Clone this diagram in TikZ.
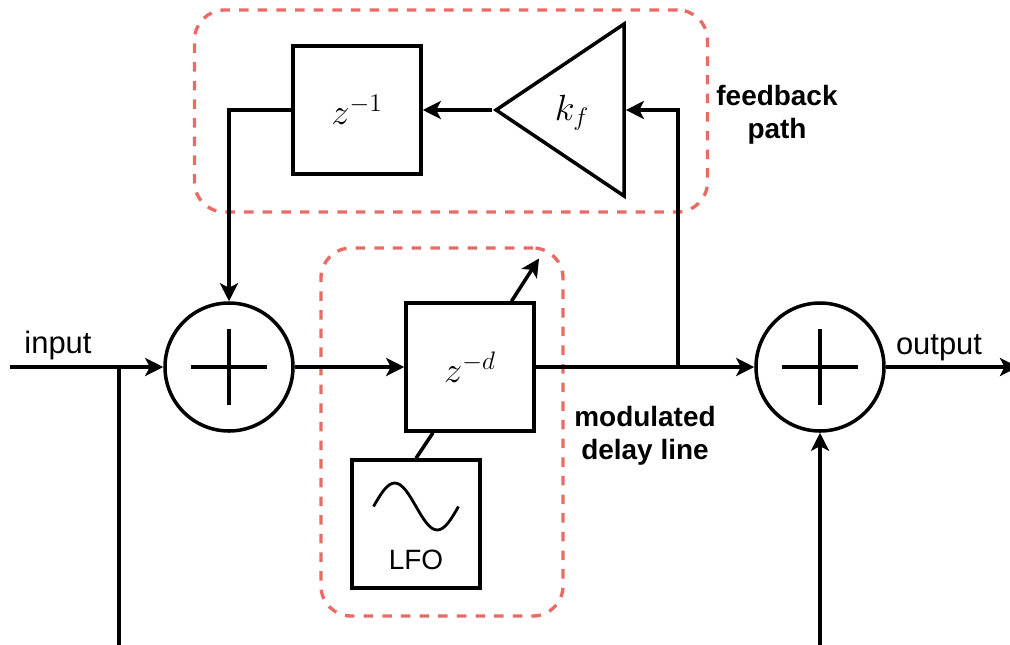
\documentclass[tikz,border=0pt]{standalone}
\usepackage{fontspec}
\usepackage{amsmath}
\setmainfont{Liberation Sans}
\usetikzlibrary{arrows.meta, positioning, shapes.geometric}
\definecolor{grpred}{HTML}{EA6B66}

\begin{document}
\begin{tikzpicture}[line width=2pt,
    sig/.style={-{Stealth[length=0.36cm, width=0.36cm, inset=0.09cm]}},
    blockbox/.style={draw, minimum size=2.56cm, inner sep=0pt, font=\huge},
    adder/.style={draw, circle, minimum size=2.56cm, inner sep=0pt, path picture={
        \draw ([xshift=-0.76cm]path picture bounding box.center) -- ([xshift=0.76cm]path picture bounding box.center);
        \draw ([yshift=-0.76cm]path picture bounding box.center) -- ([yshift=0.76cm]path picture bounding box.center);
    }},
    group/.style={draw=grpred, line width=1.9pt, dash pattern=on 0.19cm off 0.183cm, rounded corners=0.6cm, inner sep=0pt},
    lbl/.style={font=\fontsize{17.6}{21}\selectfont, inner sep=0pt},
    note/.style={font=\fontsize{15.9}{18.8}\selectfont\bfseries, align=center, inner sep=0pt},
]
    \useasboundingbox (0, 0) rectangle (20.2, -12.9);

    % dashed groups
    \node[group, minimum width=10.26cm, minimum height=4.04cm] (fbgroup) at (9.02, -2.22) {};
    \node[group, minimum width=4.84cm, minimum height=7.36cm] (dlygroup) at (8.84, -8.64) {};

    % blocks
    \node[adder] (sumin) at (4.58, -7.34) {};
    \node[adder] (sumout) at (16.4, -7.34) {};
    \node[blockbox] (delay) at (9.4, -7.34) {$z^{-d}$};
    \node[blockbox] (lfo) at (8.32, -10.48) {};
    \node[blockbox] (zinv) at (7.14, -2.2) {$z^{-1}$};
    \node[draw, isosceles triangle, isosceles triangle stretches, shape border rotate=180,
          minimum width=3.44cm, minimum height=2.56cm, inner sep=0pt, anchor=apex] (gain) at (9.83, -2.2) {};
    \node[font=\huge, inner sep=0pt] (gainlbl) at (11.44, -2.26) {$k_f$};
    \node[font=\fontsize{15.9}{18.8}\selectfont, inner sep=0pt] (lfolbl) at (8.32, -11.2) {LFO};
    \draw[line width=1.6pt] (7.47, -10.13) sin (7.895, -9.66) cos (8.32, -10.13) sin (8.745, -10.6) cos (9.17, -10.13);

    % free ends
    \coordinate (in) at (0.2, -7.34);
    \coordinate (branch) at (2.38, -7.34);
    \coordinate (tap) at (13.56, -7.34);
    \coordinate (out) at (20.36, -7.34);
    \coordinate (bottom) at (2.38, -12.935);
    \coordinate (modtip) at (10.78, -5.17);

    % signal path
    \draw[sig] (in) -- (sumin);
    \draw[sig] (sumin) -- (delay);
    \draw[sig] (delay) -- (sumout);
    \draw[sig] (sumout) -- (out);
    \draw[sig] (tap) |- (gain.east);
    \draw[sig] (gain.apex) -- (zinv);
    \draw[sig] (zinv) -| (sumin);
    \draw[sig] (branch) -- (bottom) -| (sumout);
    \draw[sig] ([xshift=0.83cm]delay.north) -- (modtip);
    \draw (lfo.north) -- ([xshift=-0.74cm]delay.south);

    % labels
    \node[lbl] (inlbl) at (1.16, -6.9) {input};
    \node[lbl] (outlbl) at (18.78, -6.95) {output};
    \node[note] (fblbl) at (15.54, -2.3) {feedback\\path};
    \node[note] (dlylbl) at (12.9, -8.72) {modulated\\delay line};
\end{tikzpicture}
\end{document}
